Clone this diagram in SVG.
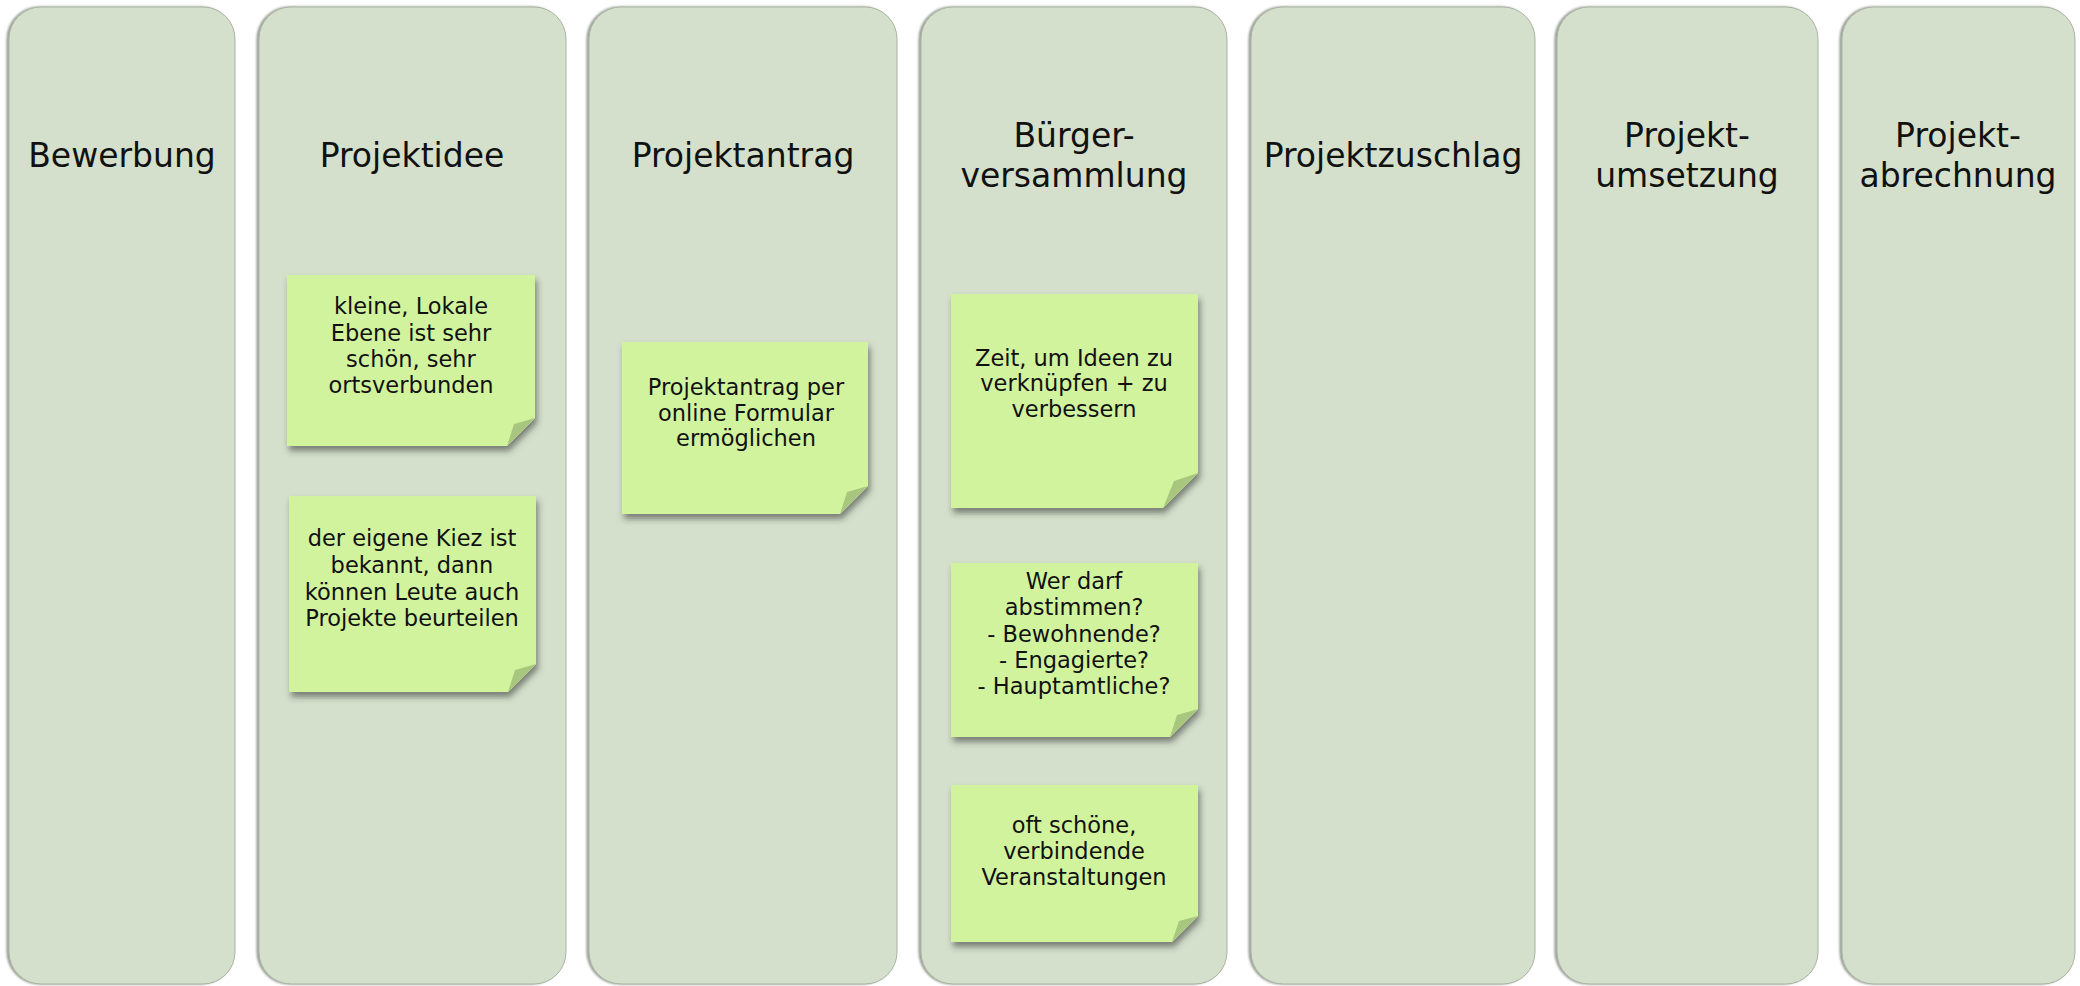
<svg xmlns="http://www.w3.org/2000/svg" width="2080" height="986" viewBox="0 0 2080 986">
<defs>
<filter id="colsh" x="-5%" y="-5%" width="110%" height="110%">
<feDropShadow dx="-2" dy="0" stdDeviation="1.2" flood-color="#4d5548" flood-opacity="0.6"/>
</filter>
<filter id="notesh" x="-10%" y="-10%" width="125%" height="130%">
<feDropShadow dx="2" dy="5" stdDeviation="3" flood-color="#333" flood-opacity="0.55"/>
</filter>
<style>
.col{fill:#D4E0CB;stroke:#A9B4A2;stroke-width:1;filter:url(#colsh)}
.title{font-family:"DejaVu Sans","Liberation Sans",sans-serif;font-size:33px;fill:#111;text-anchor:middle}
.note{fill:#D2F39E;filter:url(#notesh)}
.fold{fill:#A9C67F}
.nt{font-family:"DejaVu Sans","Liberation Sans",sans-serif;font-size:22.5px;fill:#111;text-anchor:middle}
</style>
</defs>
<rect width="2080" height="986" fill="#ffffff"/>

<g id="col-bewerbung">
<rect class="col" x="9" y="7" width="226" height="977" rx="32"/>
<text class="title" x="122" y="167">Bewerbung</text>
</g>
<g id="col-projektidee">
<rect class="col" x="259" y="7" width="307" height="977" rx="32"/>
<text class="title" x="412" y="167">Projektidee</text>
</g>
<g id="col-projektantrag">
<rect class="col" x="589" y="7" width="308" height="977" rx="32"/>
<text class="title" x="743" y="167">Projektantrag</text>
</g>
<g id="col-buergerversammlung">
<rect class="col" x="921" y="7" width="306" height="977" rx="32"/>
<text class="title" x="1074" y="147">Bürger-</text>
<text class="title" x="1074" y="187">versammlung</text>
</g>
<g id="col-projektzuschlag">
<rect class="col" x="1251" y="7" width="284" height="977" rx="32"/>
<text class="title" x="1393" y="167">Projektzuschlag</text>
</g>
<g id="col-projektumsetzung">
<rect class="col" x="1557" y="7" width="261" height="977" rx="32"/>
<text class="title" x="1687" y="147">Projekt-</text>
<text class="title" x="1687" y="187">umsetzung</text>
</g>
<g id="col-projektabrechnung">
<rect class="col" x="1842" y="7" width="233" height="977" rx="32"/>
<text class="title" x="1958" y="147">Projekt-</text>
<text class="title" x="1958" y="187">abrechnung</text>
</g>

<g id="note1">
<polygon class="note" points="287,275 535,275 535,418 507,446 287,446"/>
<polygon class="fold" points="507,446 514,424 535,418"/>
<text class="nt" x="411"><tspan x="411" y="314">kleine, Lokale</tspan><tspan x="411" y="341">Ebene ist sehr</tspan><tspan x="411" y="367">schön, sehr</tspan><tspan x="411" y="393">ortsverbunden</tspan></text>
</g>
<g id="note2">
<polygon class="note" points="289,496 536,496 536,664 508,692 289,692"/>
<polygon class="fold" points="508,692 515,670 536,664"/>
<text class="nt" x="412"><tspan x="412" y="546">der eigene Kiez ist</tspan><tspan x="412" y="573">bekannt, dann</tspan><tspan x="412" y="600">können Leute auch</tspan><tspan x="412" y="626">Projekte beurteilen</tspan></text>
</g>
<g id="note3">
<polygon class="note" points="622,342 868,342 868,486 840,514 622,514"/>
<polygon class="fold" points="840,514 847,492 868,486"/>
<text class="nt" x="746"><tspan x="746" y="395">Projektantrag per</tspan><tspan x="746" y="421">online Formular</tspan><tspan x="746" y="446">ermöglichen</tspan></text>
</g>
<g id="note4">
<polygon class="note" points="951,294 1198,294 1198,473 1163,508 951,508"/>
<polygon class="fold" points="1163,508 1174,481 1198,473"/>
<text class="nt" x="1074"><tspan x="1074" y="366">Zeit, um Ideen zu</tspan><tspan x="1074" y="391">verknüpfen + zu</tspan><tspan x="1074" y="417">verbessern</tspan></text>
</g>
<g id="note5">
<polygon class="note" points="951,563 1198,563 1198,709 1170,737 951,737"/>
<polygon class="fold" points="1170,737 1177,715 1198,709"/>
<text class="nt" x="1074"><tspan x="1074" y="589">Wer darf</tspan><tspan x="1074" y="615">abstimmen?</tspan><tspan x="1074" y="642">- Bewohnende?</tspan><tspan x="1074" y="668">- Engagierte?</tspan><tspan x="1074" y="694">- Hauptamtliche?</tspan></text>
</g>
<g id="note6">
<polygon class="note" points="951,785 1198,785 1198,916 1172,942 951,942"/>
<polygon class="fold" points="1172,942 1179,921 1198,916"/>
<text class="nt" x="1074"><tspan x="1074" y="833">oft schöne,</tspan><tspan x="1074" y="859">verbindende</tspan><tspan x="1074" y="885">Veranstaltungen</tspan></text>
</g>

<g id="connectors"></g>
</svg>
